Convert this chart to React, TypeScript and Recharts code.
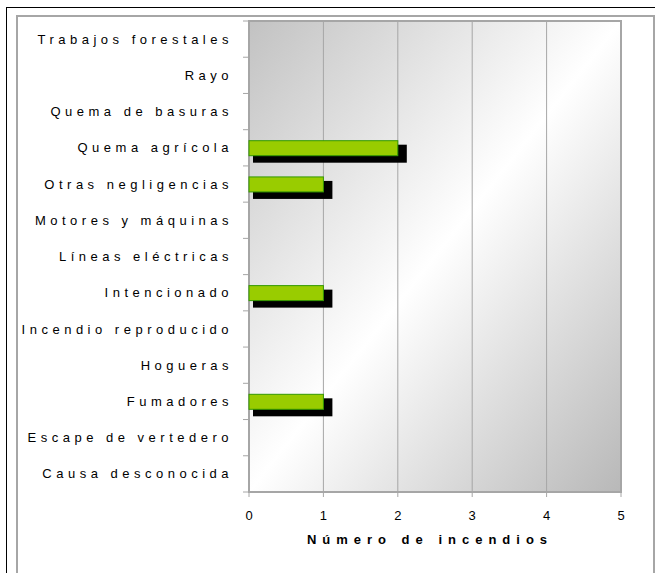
import React from 'react';
import {
  BarChart,
  Bar,
  XAxis,
  YAxis,
  CartesianGrid,
  ReferenceArea,
} from 'recharts';

const categories = [
  'Trabajos forestales',
  'Rayo',
  'Quema de basuras',
  'Quema agrícola',
  'Otras negligencias',
  'Motores y máquinas',
  'Líneas eléctricas',
  'Intencionado',
  'Incendio reproducido',
  'Hogueras',
  'Fumadores',
  'Escape de vertedero',
  'Causa desconocida',
];
const incendios = [0, 0, 0, 2, 1, 0, 0, 1, 0, 0, 1, 0, 0];
const xTicks = [0, 1, 2, 3, 4, 5];

const data = categories.map((name, i) => ({ name, value: incendios[i] }));

const FONT = '"Liberation Sans", Arial, sans-serif';
const W = 655;
const H = 573;
const MARGIN = { top: 21, right: 34, bottom: 21, left: 0 };
const Y_AXIS_W = 249;
const X_AXIS_H = 60;
const PLOT_LEFT = MARGIN.left + Y_AXIS_W;
const PLOT_H = H - MARGIN.top - MARGIN.bottom - X_AXIS_H;
const BAND = PLOT_H / categories.length;
const GRID = '#a6a6a6';

// green bar with offset black drop shadow
const ShadowBar = (props: any) => {
  const { x, y, width, height } = props;
  if (!width || width <= 0) return null;
  return (
    <g>
      <rect x={x + 4} y={y + 4} width={width + 5} height={height + 3} fill="#000" />
      <rect x={x} y={y} width={width} height={height} fill="#99cc00" stroke="#339900" strokeWidth={1} />
    </g>
  );
};

// category label + tick mark on the band boundary
const CategoryTick = (props: any) => {
  const { y, payload, index } = props;
  const last = index === categories.length - 1;
  return (
    <g>
      <line x1={PLOT_LEFT - 6} x2={PLOT_LEFT} y1={y - BAND / 2} y2={y - BAND / 2} stroke={GRID} />
      {last && (
        <line x1={PLOT_LEFT - 6} x2={PLOT_LEFT} y1={y + BAND / 2} y2={y + BAND / 2} stroke={GRID} />
      )}
      <text
        x={PLOT_LEFT - 16}
        y={y}
        dy="0.35em"
        textAnchor="end"
        fontFamily={FONT}
        fontSize={13}
        letterSpacing={4.5}
        fill="#000"
      >
        {payload.value}
      </text>
    </g>
  );
};

export default function App() {
  return (
    <div style={{ position: 'absolute', left: 0, top: 0, width: W, height: H, overflow: 'hidden', background: '#fff' }}>
      <div style={{ position: 'absolute', left: 6, top: 7, width: 800, height: 800, borderLeft: '1px solid #000', borderTop: '1px solid #000' }} />
      <div style={{ position: 'absolute', left: 16, top: 15, width: 635, height: 800, border: `2px solid ${GRID}` }} />
      <div style={{ position: 'absolute', left: 0, top: 0 }}>
        <BarChart width={W} height={H} data={data} layout="vertical" margin={MARGIN} barSize={15}>
          <defs>
            <linearGradient id="plotBg" x1="0" y1="0" x2="1" y2="1">
              <stop offset="0%" stopColor="#c2c2c2" />
              <stop offset="50%" stopColor="#ffffff" />
              <stop offset="100%" stopColor="#b8b8b8" />
            </linearGradient>
          </defs>
          <CartesianGrid horizontal={false} stroke={GRID} fill="url(#plotBg)" />
          <XAxis
            type="number"
            domain={[0, 5]}
            ticks={xTicks}
            height={X_AXIS_H}
            axisLine={false}
            tickLine={{ stroke: GRID }}
            tickSize={5}
            tickMargin={14}
            tick={{ fill: '#000', fontSize: 13, fontFamily: FONT }}
            label={{
              value: 'Número de incendios',
              position: 'insideBottom',
              offset: 8,
              dx: -5,
              fill: '#000',
              fontSize: 13,
              fontWeight: 'bold',
              fontFamily: FONT,
              letterSpacing: 6,
            }}
          />
          <YAxis
            type="category"
            dataKey="name"
            width={Y_AXIS_W}
            axisLine={false}
            tickLine={false}
            interval={0}
            tick={<CategoryTick />}
          />
          <ReferenceArea x1={0} x2={5} fill="none" stroke={GRID} strokeWidth={2} />
          <Bar dataKey="value" shape={<ShadowBar />} isAnimationActive={false} />
        </BarChart>
      </div>
    </div>
  );
}
